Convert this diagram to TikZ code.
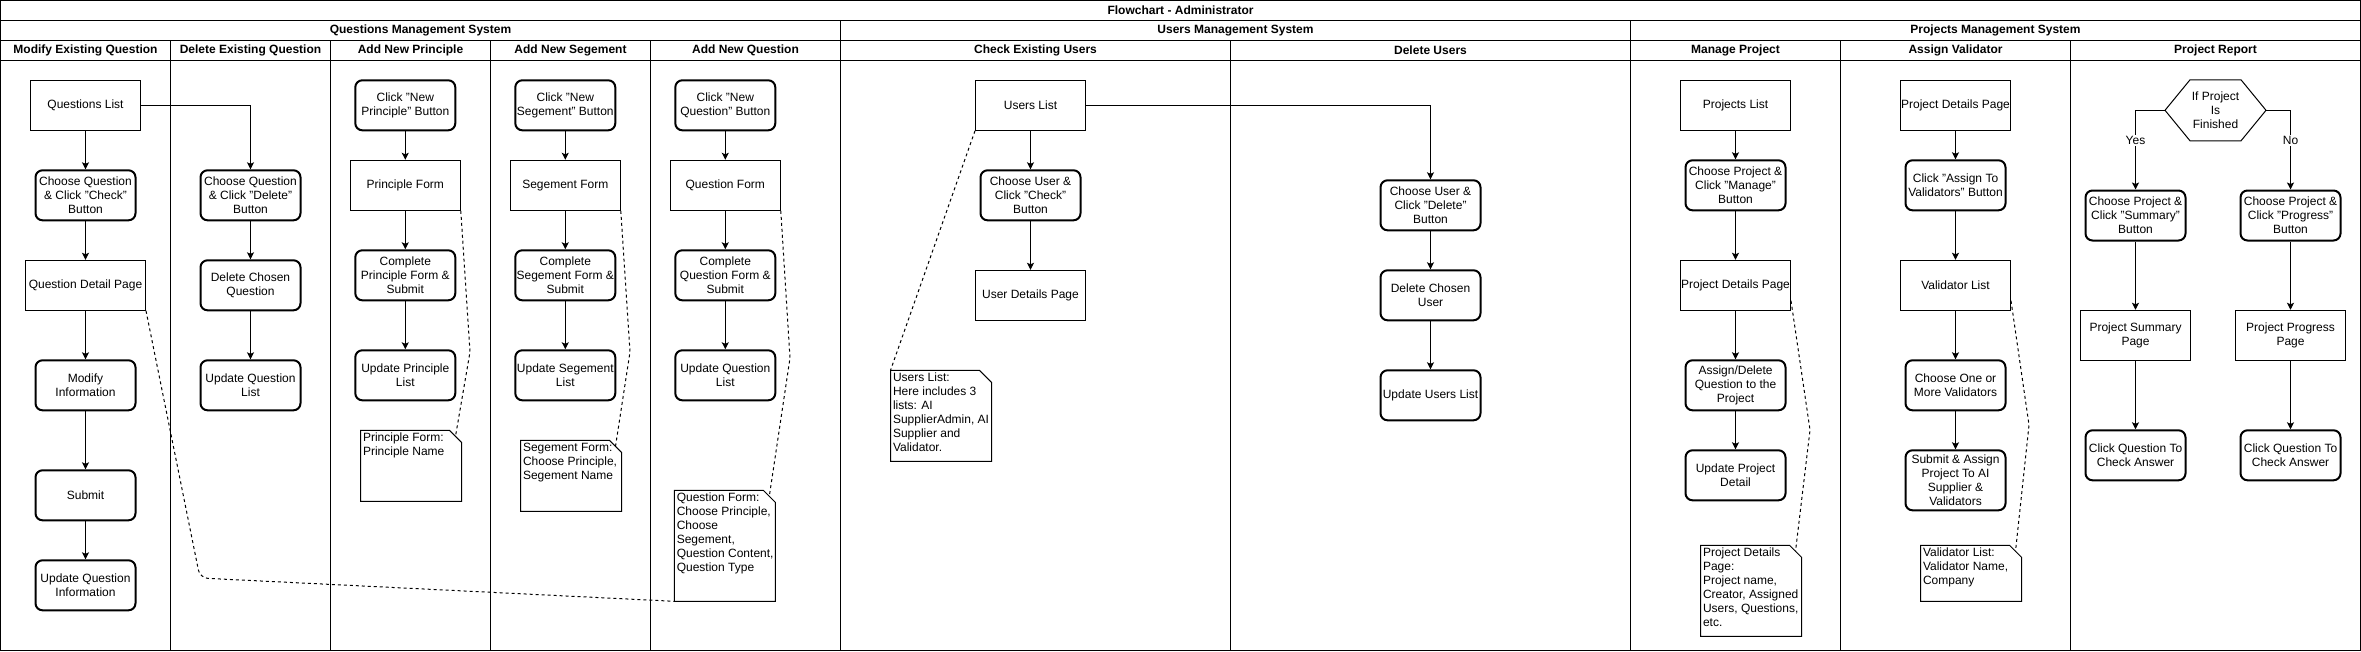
\documentclass[tikz,border=0pt]{standalone}
\usepackage{fontspec}
\setmainfont{Liberation Sans}
\usetikzlibrary{arrows.meta}

\newcommand{\memoframe}[1]{%
  \draw (#1.north west) -- ([xshift=-12pt]#1.north east) -- ([yshift=-12pt]#1.north east)
    -- (#1.south east) -- (#1.south west) -- cycle;}

\begin{document}
\begin{tikzpicture}[x=1pt,y=-1pt,line width=1pt,
  every node/.style={font=\fontsize{12}{14}\selectfont},
  headtext/.style={font=\fontsize{12}{14}\selectfont\bfseries},
  pagebox/.style={draw,line width=1pt,minimum width=110pt,minimum height=50pt,inner sep=0pt,align=center},
  stepbox/.style={draw,line width=2pt,rounded corners=7pt,minimum width=100pt,minimum height=50pt,inner sep=0pt,align=center},
  decision/.style={minimum width=100pt,minimum height=60pt,inner sep=0pt,align=center},
  memo/.style={minimum width=100pt,minimum height=#1,inner sep=0pt,anchor=north west},
  memotext/.style={anchor=north west,align=left,inner sep=2pt},
  flow/.style={line width=1pt,-{Stealth[length=7pt,width=7pt,inset=1.5pt]}},
  memoline/.style={line width=1pt,dashed},
  edgelabel/.style={fill=white,inner sep=1pt}]

\useasboundingbox (0,0) rectangle (2361,651);

% frame of the pools and lanes
\draw (0.5,0.5) rectangle (2360.5,650.5);
\draw (0.5,20.5) -- (2360.5,20.5);
\draw (0.5,40.5) -- (2360.5,40.5);
\draw (0.5,60.5) -- (2360.5,60.5);
\draw (840.5,20.5) -- (840.5,650.5);
\draw (1630.5,20.5) -- (1630.5,650.5);
\draw (170.5,40.5) -- (170.5,650.5);
\draw (330.5,40.5) -- (330.5,650.5);
\draw (490.5,40.5) -- (490.5,650.5);
\draw (650.5,40.5) -- (650.5,650.5);
\draw (1230.5,40.5) -- (1230.5,650.5);
\draw (1840.5,40.5) -- (1840.5,650.5);
\draw (2070.5,40.5) -- (2070.5,650.5);

\node[headtext] (title) at (1180.5,10.5) {Flowchart - Administrator};
\node[headtext] (qms) at (420.5,30.5) {Questions Management System};
\node[headtext] (ums) at (1235.5,30.5) {Users Management System};
\node[headtext] (pms) at (1995.5,30.5) {Projects Management System};

\node[headtext] (h1) at (85.5,50.5) {Modify Existing Question};
\node[headtext] (h2) at (250.5,50.5) {Delete Existing Question};
\node[headtext] (h3) at (410.5,50.5) {Add New Principle};
\node[headtext] (h4) at (570.5,50.5) {Add New Segement};
\node[headtext] (h5) at (745.5,50.5) {Add New Question};
\node[headtext] (h6) at (1035.5,50.5) {Check Existing Users};
\node[headtext] (h7) at (1430.5,50.5) {Delete Users};
\node[headtext] (h8) at (1735.5,50.5) {Manage Project};
\node[headtext] (h9) at (1955.5,50.5) {Assign Validator};
\node[headtext] (h10) at (2215.5,50.5) {Project Report};

% questions
\node[pagebox] (ql) at (85.5,105.3) {Questions List};
\node[stepbox] (qcheck) at (85.5,195.3) {Choose Question\\\& Click "Check"\\Button};
\node[pagebox,minimum width=120pt] (qd) at (85.5,285.3) {Question Detail Page};
\node[stepbox] (qmod) at (85.5,385.3) {Modify\\Information};
\node[stepbox] (qsub) at (85.5,495.3) {Submit};
\node[stepbox] (qupd) at (85.5,585.3) {Update Question\\Information};

\node[stepbox] (qdel) at (250.5,195.3) {Choose Question\\\& Click "Delete"\\Button};
\node[stepbox] (qdelc) at (250.5,285.3) {Delete Chosen\\Question};
\node[stepbox] (qdelu) at (250.5,385.3) {Update Question\\List};

\node[stepbox] (pclick) at (405.3,105.3) {Click "New\\Principle" Button};
\node[pagebox] (pf) at (405.3,185.3) {Principle Form};
\node[stepbox] (pcomp) at (405.3,275.3) {Complete\\Principle Form \&\\Submit};
\node[stepbox] (pupd) at (405.3,375.3) {Update Principle\\List};
\node[memo=70pt] (pn) at (360.5,430.3) {};
\node[memotext] (pntx) at (pn.north west) {Principle Form:\\Principle Name};

\node[stepbox] (sclick) at (565.3,105.3) {Click "New\\Segement" Button};
\node[pagebox] (sf) at (565.3,185.3) {Segement Form};
\node[stepbox] (scomp) at (565.3,275.3) {Complete\\Segement Form \&\\Submit};
\node[stepbox] (supd) at (565.3,375.3) {Update Segement\\List};
\node[memo=70pt] (sn) at (520.5,440.3) {};
\node[memotext] (sntx) at (sn.north west) {Segement Form:\\Choose Principle,\\Segement Name};

\node[stepbox] (nqclick) at (725.3,105.3) {Click "New\\Question" Button};
\node[pagebox] (nqf) at (725.3,185.3) {Question Form};
\node[stepbox] (nqcomp) at (725.3,275.3) {Complete\\Question Form \&\\Submit};
\node[stepbox] (nqupd) at (725.3,375.3) {Update Question\\List};
\node[memo=110pt] (nqn) at (674.3,490.3) {};
\node[memotext] (nqntx) at (nqn.north west) {Question Form:\\Choose Principle,\\Choose\\Segement,\\Question Content,\\Question Type};

% users
\node[pagebox] (ul) at (1030.5,105.3) {Users List};
\node[stepbox] (ucheck) at (1030.5,195.3) {Choose User \&\\Click "Check"\\Button};
\node[pagebox] (udet) at (1030.5,295.3) {User Details Page};
\node[memo=90pt] (un) at (890.5,370.3) {};
\node[memotext] (untx) at (un.north west) {Users List:\\Here includes 3\\lists: AI\\SupplierAdmin, AI\\Supplier and\\Validator.};

\node[stepbox] (udel) at (1430.5,205.3) {Choose User \&\\Click "Delete"\\Button};
\node[stepbox] (udelc) at (1430.5,295.3) {Delete Chosen\\User};
\node[stepbox] (uupd) at (1430.5,395.3) {Update Users List};

% projects
\node[pagebox] (prl) at (1735.5,105.3) {Projects List};
\node[stepbox] (prman) at (1735.5,185.3) {Choose Project \&\\Click "Manage"\\Button};
\node[pagebox] (prd) at (1735.5,285.3) {Project Details Page};
\node[stepbox] (prasg) at (1735.5,385.3) {Assign/Delete\\Question to the\\Project};
\node[stepbox] (prupd) at (1735.5,475.3) {Update Project\\Detail};
\node[memo=90pt] (prn) at (1700.5,545.3) {};
\node[memotext] (prntx) at (prn.north west) {Project Details\\Page:\\Project name,\\Creator, Assigned\\Users, Questions,\\etc.};

\node[pagebox] (vpd) at (1955.5,105.3) {Project Details Page};
\node[stepbox] (vclick) at (1955.5,185.3) {Click "Assign To\\Validators" Button};
\node[pagebox] (vl) at (1955.5,285.3) {Validator List};
\node[stepbox] (vchoose) at (1955.5,385.3) {Choose One or\\More Validators};
\node[stepbox,minimum height=60pt] (vsub) at (1955.5,480.3) {Submit \& Assign\\Project To AI\\Supplier \&\\Validators};
\node[memo=55pt] (vn) at (1920.5,545.3) {};
\node[memotext] (vntx) at (vn.north west) {Validator List:\\Validator Name,\\Company};

\node[decision] (dec) at (2215.5,110.3) {If Project\\Is\\Finished};
\draw (dec.west) -- ([xshift=25pt]dec.north west) -- ([xshift=-25pt]dec.north east) -- (dec.east)
  -- ([xshift=-25pt]dec.south east) -- ([xshift=25pt]dec.south west) -- cycle;
\node[stepbox] (rsum) at (2135.5,215.5) {Choose Project \&\\Click "Summary"\\Button};
\node[stepbox] (rprog) at (2290.5,215.5) {Choose Project \&\\Click "Progress"\\Button};
\node[pagebox] (rsump) at (2135.5,335.3) {Project Summary\\Page};
\node[pagebox] (rprogp) at (2290.5,335.3) {Project Progress\\Page};
\node[stepbox] (rsumc) at (2135.5,455.3) {Click Question To\\Check Answer};
\node[stepbox] (rprogc) at (2290.5,455.3) {Click Question To\\Check Answer};

% notes
\memoframe{pn}
\memoframe{sn}
\memoframe{nqn}
\memoframe{un}
\memoframe{prn}
\memoframe{vn}

% flow
\draw[flow] (ql) -- (qcheck);
\draw[flow] (qcheck) -- (qd);
\draw[flow] (qd) -- (qmod);
\draw[flow] (qmod) -- (qsub);
\draw[flow] (qsub) -- (qupd);
\draw[flow] (ql.east) -| (qdel.north);
\draw[flow] (qdel) -- (qdelc);
\draw[flow] (qdelc) -- (qdelu);

\draw[flow] (pclick) -- (pf);
\draw[flow] (pf) -- (pcomp);
\draw[flow] (pcomp) -- (pupd);
\draw[flow] (sclick) -- (sf);
\draw[flow] (sf) -- (scomp);
\draw[flow] (scomp) -- (supd);
\draw[flow] (nqclick) -- (nqf);
\draw[flow] (nqf) -- (nqcomp);
\draw[flow] (nqcomp) -- (nqupd);

\draw[flow] (ul) -- (ucheck);
\draw[flow] (ucheck) -- (udet);
\draw[flow] (ul.east) -| (udel.north);
\draw[flow] (udel) -- (udelc);
\draw[flow] (udelc) -- (uupd);

\draw[flow] (prl) -- (prman);
\draw[flow] (prman) -- (prd);
\draw[flow] (prd) -- (prasg);
\draw[flow] (prasg) -- (prupd);
\draw[flow] (vpd) -- (vclick);
\draw[flow] (vclick) -- (vl);
\draw[flow] (vl) -- (vchoose);
\draw[flow] (vchoose) -- (vsub);

\draw[flow] (dec.west) -| node[edgelabel,pos=0.69] (yes) {Yes} (rsum.north);
\draw[flow] (dec.east) -| node[edgelabel,pos=0.69] (no) {No} (rprog.north);
\draw[flow] (rsum) -- (rsump);
\draw[flow] (rsump) -- (rsumc);
\draw[flow] (rprog) -- (rprogp);
\draw[flow] (rprogp) -- (rprogc);

% dashed links to the notes
\draw[memoline] (pf.south east) -- (470,352) -- ([shift={(-6,6)}]pn.north east);
\draw[memoline] (sf.south east) -- (630,352) -- ([shift={(-6,6)}]sn.north east);
\draw[memoline] (nqf.south east) -- (790,358) -- ([shift={(-6,6)}]nqn.north east);
\draw[memoline] (ul.south west) -- (un.north west);
\draw[memoline,rounded corners=8pt] (qd.south east) -- (200,578) -- (nqn.south west);
\draw[memoline] ([yshift=10pt]prd.south east) -- (1810,430) -- ([shift={(-6,6)}]prn.north east);
\draw[memoline] ([yshift=10pt]vl.south east) -- (2029,425) -- ([shift={(-6,6)}]vn.north east);
\end{tikzpicture}
\end{document}
